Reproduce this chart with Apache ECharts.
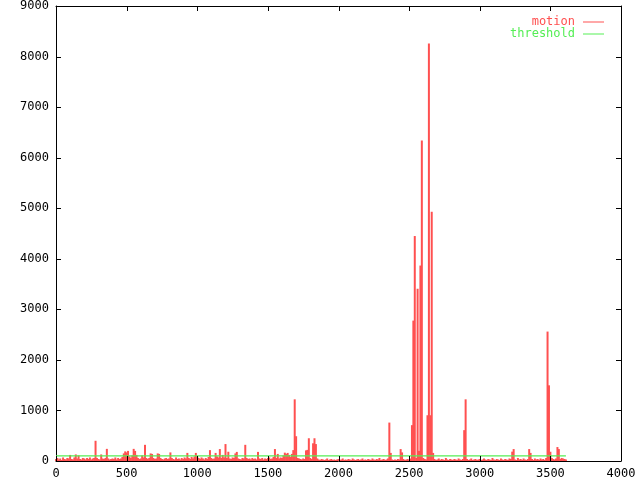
<!DOCTYPE html>
<html>
<head>
<meta charset="utf-8">
<script src="https://cdn.jsdelivr.net/npm/echarts@6/dist/echarts.min.js"></script>
<style>html,body{margin:0;padding:0;background:#fff}#c{width:640px;height:480px}</style>
</head>
<body>
<div id="c"></div>
<script>
// frame step of the motion samples
var frameStart = 0;
var frameStep = 10;
// motion values, one per frame step (0, 10, 20, ... 3610)
var motion = [
  40,60,30,50,20,70,40,30,60,50,120,40,30,70,130,50,110,40,30,60,
  50,30,60,40,70,30,50,60,400,60,40,30,130,50,40,60,240,50,30,40,
  50,40,70,30,60,40,50,80,150,190,170,200,90,60,110,240,200,120,60,40,
  50,110,70,320,60,40,60,150,140,60,40,50,150,140,60,40,30,50,60,40,
  50,170,60,40,30,70,40,50,30,60,40,70,50,160,60,40,80,50,90,160,
  80,60,40,70,50,30,60,40,80,215,60,40,50,160,90,70,236,60,120,70,
  335,60,183,50,40,70,60,150,180,50,40,30,60,50,320,60,40,50,30,60,
  40,50,30,180,50,40,60,30,50,40,60,70,40,50,80,236,60,140,50,70,
  60,110,165,140,160,120,80,140,215,1220,490,60,50,40,30,50,40,210,220,450,
  60,40,350,450,335,50,30,20,40,30,20,30,50,20,30,40,20,30,20,30,
  40,20,30,50,20,30,20,40,30,20,50,30,20,30,40,20,30,50,20,30,
  20,40,30,20,50,30,20,40,30,60,20,30,40,20,30,50,760,160,30,20,
  30,20,40,30,236,170,40,20,30,40,20,50,709,2777,4450,60,3407,200,3866,6340,
  60,40,30,905,8260,905,4930,160,40,20,30,50,20,40,30,20,60,30,20,40,
  30,20,40,30,20,50,30,20,40,610,1220,40,20,30,50,20,30,40,20,30,
  40,20,30,50,30,20,40,30,20,60,30,20,40,30,20,50,30,20,40,30,
  20,50,40,185,236,30,20,60,30,40,20,50,30,20,40,236,160,40,20,50,
  30,40,20,50,30,40,20,60,2560,1497,183,60,40,30,50,276,236,40,60,50,
  40,30
];
var thresholdValue = 100;
var thresholdFrames = [0, 3610];
var xTickValues = [0, 500, 1000, 1500, 2000, 2500, 3000, 3500, 4000];
var yTickValues = [0, 1000, 2000, 3000, 4000, 5000, 6000, 7000, 8000, 9000];
var xRange = {min: 0, max: 4000, interval: 500};
var yRange = {min: 0, max: 9000, interval: 1000};

var red = '#ff5050';
var green = '#55ee55';
var font = 'DejaVu Sans Mono';
var TL = 5; // tick length in px

var motionData = motion.map(function (v, i) { return [frameStart + i * frameStep, v]; });
var thresholdData = thresholdFrames.map(function (f) { return [f, thresholdValue]; });

function axisLine() { return {show: true, onZero: false, lineStyle: {color: '#000', width: 1}}; }
function lbl(margin) {
  return {show: true, margin: margin, fontFamily: font, fontSize: 12, color: '#000',
          formatter: function (v) { return String(v); }};
}
function crisp(v) { return Math.round(v) + 0.5; }

var tickData = [];
xTickValues.forEach(function (v) { tickData.push(['x', v]); });
yTickValues.forEach(function (v) { tickData.push(['y', v]); });

function renderTick(params, api) {
  var kind = tickData[params.dataIndex][0];
  var v = tickData[params.dataIndex][1];
  var st = {stroke: '#000', lineWidth: 1};
  var a, b;
  if (kind === 'x') {
    a = api.coord([v, yRange.min]);
    b = api.coord([v, yRange.max]);
    var x = crisp(a[0]);
    return {type: 'group', children: [
      {type: 'line', shape: {x1: x, y1: a[1], x2: x, y2: a[1] - TL}, style: st},
      {type: 'line', shape: {x1: x, y1: b[1], x2: x, y2: b[1] + TL}, style: st}
    ]};
  } else {
    a = api.coord([xRange.min, v]);
    b = api.coord([xRange.max, v]);
    var y = crisp(a[1]);
    return {type: 'group', children: [
      {type: 'line', shape: {x1: a[0], y1: y, x2: a[0] + TL, y2: y}, style: st},
      {type: 'line', shape: {x1: b[0], y1: y, x2: b[0] - TL, y2: y}, style: st}
    ]};
  }
}

var chart = echarts.init(document.getElementById('c'), null, {renderer: 'canvas'});
chart.setOption({
  animation: false,
  backgroundColor: '#fff',
  grid: {left: 56, right: 19, top: 5, bottom: 18, containLabel: false},
  legend: {
    orient: 'vertical', right: 31, top: 11, itemWidth: 21, itemHeight: 1, itemGap: 0,
    icon: 'rect', align: 'right',
    textStyle: {fontFamily: font, fontSize: 12, lineHeight: 11, padding: [0, 3, 0, 0]},
    data: [
      {name: 'motion', textStyle: {color: red}},
      {name: 'threshold', textStyle: {color: green}}
    ]
  },
  xAxis: [
    {type: 'value', position: 'bottom', min: xRange.min, max: xRange.max, interval: xRange.interval,
     axisLine: axisLine(), axisTick: {show: false}, splitLine: {show: false}, axisLabel: lbl(7)},
    {type: 'value', position: 'top', min: xRange.min, max: xRange.max, interval: xRange.interval,
     axisLine: axisLine(), axisTick: {show: false}, splitLine: {show: false}, axisLabel: {show: false}}
  ],
  yAxis: [
    {type: 'value', position: 'left', min: yRange.min, max: yRange.max, interval: yRange.interval,
     axisLine: axisLine(), axisTick: {show: false}, splitLine: {show: false}, axisLabel: lbl(7)},
    {type: 'value', position: 'right', min: yRange.min, max: yRange.max, interval: yRange.interval,
     axisLine: axisLine(), axisTick: {show: false}, splitLine: {show: false}, axisLabel: {show: false}}
  ],
  series: [
    {name: 'motion', type: 'bar', xAxisIndex: 0, yAxisIndex: 0, data: motionData,
     barWidth: 2, itemStyle: {color: red}, z: 2},
    {name: 'threshold', type: 'line', xAxisIndex: 0, yAxisIndex: 0, data: thresholdData,
     showSymbol: false, symbol: 'none', lineStyle: {color: green, width: 1.3}, itemStyle: {color: green}, z: 3},
    {name: 'ticks', type: 'custom', xAxisIndex: 0, yAxisIndex: 0, data: tickData.map(function (d, i) { return [i]; }),
     renderItem: renderTick, silent: true, z: 4, clip: false}
  ]
});
</script>
</body>
</html>
